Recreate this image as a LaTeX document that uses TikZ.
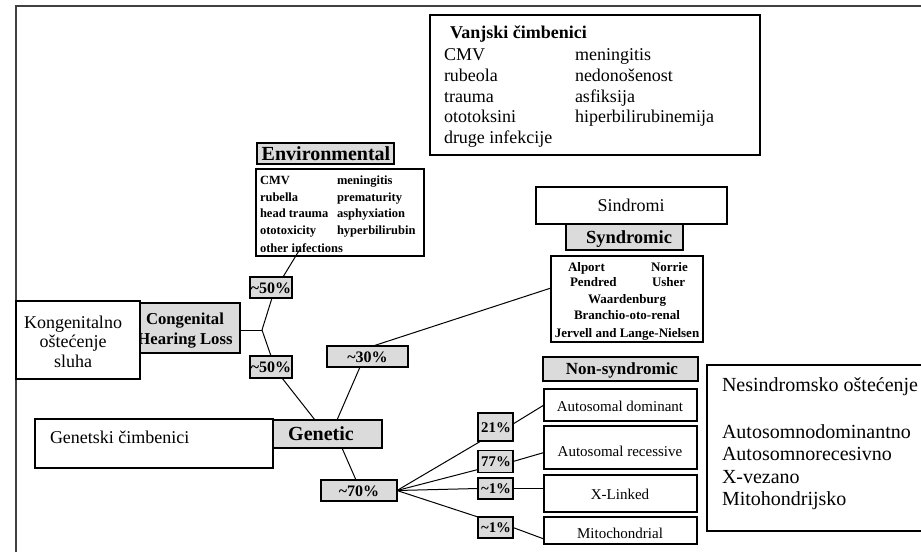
\documentclass[tikz,border=0pt]{standalone}
\usepackage{fontspec}
\setmainfont{Liberation Serif}
\usetikzlibrary{calc}
\newcommand\myfs[1]{\fontsize{#1}{#1}\selectfont}
\newcommand\tld{\char"7E\relax}
\begin{document}
\begin{tikzpicture}[x=1pt,y=-1pt,
  box/.style={draw=black,line width=1.1pt,fill=white,inner sep=0pt,outer sep=0pt},
  gbox/.style={box,fill=black!14},
  con/.style={draw=black,line width=1pt},
  tw/.style={inner sep=0pt,outer sep=0pt,anchor=base west},
  tc/.style={inner sep=0pt,outer sep=0pt,anchor=base},
  frame/.style={draw=black!75,line width=1.6pt},
]
\useasboundingbox (0,0) rectangle (921,552);
% frame
\coordinate (fb) at (16,552);
\coordinate (ftl) at (16,6);
\coordinate (ftr) at (921,6);
\draw[frame] (fb) -- (ftl) -- (ftr);

% Vanjski cimbenici box
\node[box,minimum width=330,minimum height=140] (vbox) at (595,85) {};
\node[tw,font=\myfs{18}\bfseries] (vt) at (450,38.5) {Vanjski čimbenici};
\node[tw,font=\myfs{18}] (v1a) at (444,60.5) {CMV};
\node[tw,font=\myfs{18}] (v1b) at (575,60.5) {meningitis};
\node[tw,font=\myfs{18}] (v2a) at (444,81.5) {rubeola};
\node[tw,font=\myfs{18}] (v2b) at (575,81.5) {nedonošenost};
\node[tw,font=\myfs{18}] (v3a) at (444,102.5) {trauma};
\node[tw,font=\myfs{18}] (v3b) at (575,102.5) {asfiksija};
\node[tw,font=\myfs{18}] (v4a) at (444,122.5) {ototoksini};
\node[tw,font=\myfs{18}] (v4b) at (575,122.5) {hiperbilirubinemija};
\node[tw,font=\myfs{18}] (v5a) at (444,143) {druge infekcije};

% Environmental
\node[gbox,minimum width=137,minimum height=21] (env) at (325.5,153.5) {};
\node[tc,font=\myfs{20}\bfseries] (envt) at (326,160) {Environmental};
\node[box,minimum width=168,minimum height=87] (envl) at (340,212.5) {};
\node[tw,font=\myfs{12.5}\bfseries] (e1a) at (260,184) {CMV};
\node[tw,font=\myfs{12.5}\bfseries] (e1b) at (337,184) {meningitis};
\node[tw,font=\myfs{12.5}\bfseries] (e2a) at (260,201) {rubella};
\node[tw,font=\myfs{12.5}\bfseries] (e2b) at (337,201) {prematurity};
\node[tw,font=\myfs{12.5}\bfseries] (e3a) at (260,217.5) {head trauma};
\node[tw,font=\myfs{12.5}\bfseries] (e3b) at (337,217.5) {asphyxiation};
\node[tw,font=\myfs{12.5}\bfseries] (e4a) at (260,234) {ototoxicity};
\node[tw,font=\myfs{12.5}\bfseries] (e4b) at (337,234) {hyperbilirubin};
\node[tw,font=\myfs{12.5}\bfseries] (e5a) at (260,252) {other infections};

% Sindromi / Syndromic
\node[box,minimum width=191,minimum height=37] (sind) at (631.5,205.5) {};
\node[tc,font=\myfs{18}] (sindt) at (631,211.5) {Sindromi};
\node[gbox,minimum width=117,minimum height=26] (syn) at (624.5,237) {};
\node[tc,font=\myfs{18.5}\bfseries] (synt) at (629,243) {Syndromic};
\node[box,minimum width=152,minimum height=86] (synl) at (627,299) {};
\node[tw,font=\myfs{13}\bfseries] (s1a) at (568,271) {Alport};
\node[tw,font=\myfs{13}\bfseries] (s1b) at (651,271) {Norrie};
\node[tw,font=\myfs{13}\bfseries] (s2a) at (570,286.5) {Pendred};
\node[tw,font=\myfs{13}\bfseries] (s2b) at (652,286.5) {Usher};
\node[tc,font=\myfs{13}\bfseries] (s3) at (627,303) {Waardenburg};
\node[tc,font=\myfs{13}\bfseries] (s4) at (627,319.5) {Branchio-oto-renal};
\node[tc,font=\myfs{13}\bfseries] (s5) at (627,337) {Jervell and Lange-Nielsen};

% Non-syndromic
\node[gbox,minimum width=155,minimum height=24] (non) at (620.5,369) {};
\node[tc,font=\myfs{17}\bfseries] (nont) at (622,374.5) {Non-syndromic};
\node[box,minimum width=153,minimum height=32] (ad) at (620.5,405) {};
\node[tc,font=\myfs{15}] (adt) at (620,411.5) {Autosomal dominant};
\node[box,minimum width=153,minimum height=43] (ar) at (620.5,447.5) {};
\node[tc,font=\myfs{15}] (art) at (620,456) {Autosomal recessive};
\node[box,minimum width=153,minimum height=37] (xl) at (620.5,493.5) {};
\node[tc,font=\myfs{15}] (xlt) at (620,499) {X-Linked};
\node[box,minimum width=153,minimum height=27] (mito) at (620.5,530.5) {};
\node[tc,font=\myfs{15}] (mitot) at (620,538) {Mitochondrial};

% Nesindromsko
\node[box,minimum width=223,minimum height=166] (nes) at (818.5,448) {};
\node[tw,font=\myfs{20}] (n1) at (722,391.5) {Nesindromsko oštećenje};
\node[tw,font=\myfs{20}] (n2) at (722,438.5) {Autosomnodominantno};
\node[tw,font=\myfs{20}] (n3) at (722,460.5) {Autosomnorecesivno};
\node[tw,font=\myfs{20}] (n4) at (722,483) {X-vezano};
\node[tw,font=\myfs{20}] (n5) at (722,505.5) {Mitohondrijsko};

% Congenital
\node[gbox,minimum width=112,minimum height=50] (cong) at (184,328) {};
\node[tc,font=\myfs{16.7}\bfseries] (cong1) at (185,324.5) {Congenital};
\node[tc,font=\myfs{16.7}\bfseries] (cong2) at (185,344.5) {Hearing Loss};
\node[box,minimum width=124,minimum height=78] (kong) at (78,340) {};
\node[tc,font=\myfs{18}] (k1) at (73,328) {Kongenitalno};
\node[tc,font=\myfs{18}] (k2) at (73,347) {oštećenje};
\node[tc,font=\myfs{18}] (k3) at (73,367) {sluha};

% Genetic
\node[box,minimum width=238,minimum height=49] (gen) at (154,443.5) {};
\node[tw,font=\myfs{18}] (gent) at (50,443) {Genetski čimbenici};
\node[gbox,minimum width=109,minimum height=28] (g) at (327.5,434) {};
\node[tc,font=\myfs{20}\bfseries] (gt) at (321,440.8) {Genetic};

% percentage boxes
\node[gbox,minimum width=42,minimum height=21] (p50a) at (271,287.5) {};
\node[tc,font=\myfs{16}\bfseries] (p50at) at (271,293) {\tld 50\%};
\node[gbox,minimum width=42,minimum height=22] (p50b) at (271,367) {};
\node[tc,font=\myfs{16}\bfseries] (p50bt) at (271,372.5) {\tld 50\%};
\node[gbox,minimum width=81,minimum height=21] (p30) at (367.5,356.5) {};
\node[tc,font=\myfs{16}\bfseries] (p30t) at (367.5,362) {\tld 30\%};
\node[gbox,minimum width=76,minimum height=21] (p70) at (359,490.5) {};
\node[tc,font=\myfs{16}\bfseries] (p70t) at (359,496) {\tld 70\%};
\node[gbox,minimum width=35,minimum height=28] (p21) at (495.5,427) {};
\node[tc,font=\myfs{14.8}\bfseries] (p21t) at (496,432) {21\%};
\node[gbox,minimum width=35,minimum height=22] (p77) at (495.5,461.5) {};
\node[tc,font=\myfs{14.8}\bfseries] (p77t) at (496,466.5) {77\%};
\node[gbox,minimum width=35,minimum height=21] (p1a) at (495.5,488.5) {};
\node[tc,font=\myfs{14.8}\bfseries] (p1at) at (496,493.5) {\tld 1\%};
\node[gbox,minimum width=35,minimum height=21] (p1b) at (495.5,527.5) {};
\node[tc,font=\myfs{14.8}\bfseries] (p1bt) at (496,532.5) {\tld 1\%};

% connectors
\coordinate (envc) at (300,249);
\coordinate (br) at (262,330);
\draw[con] (envc) -- ($(p50a.north)+(12,0)$);
\draw[con] (cong.east |- br) -- (br);
\draw[con] (br) -- ($(p50a.south)+(1,0)$);
\draw[con] (br) -- (p50b.north);
\draw[con] ($(p50b.south)+(11,0)$) -- ($(g.north)+(-12.5,0)$);
\draw[con] ($(g.north)+(9.5,0)$) -- ($(p30.south)+(-7.5,0)$);
\draw[con] ($(p30.north)+(5.5,0)$) -- ($(synl.west)+(0,-11)$);
\draw[con] ($(g.south)+(14.5,0)$) -- ($(p70.north)+(-3,0)$);
\draw[con] (p70.east) -- ($(p21.south west)+(3,0)$);
\draw[con] (p70.east) -- ($(p77.south west)+(0,-3)$);
\draw[con] (p70.east) -- (p1a.west);
\draw[con] (p70.east) -- (p1b.north west);
\draw[con] ($(p21.east)+(0,-3)$) -- (ad.west);
\draw[con] (p77.east) -- ($(ar.west)+(0,5)$);
\draw[con] (p1a.east) -- (p1a.east -| xl.west);
\draw[con] (p1b.east) -- ($(mito.south west)+(0,-5)$);
\end{tikzpicture}
\end{document}
